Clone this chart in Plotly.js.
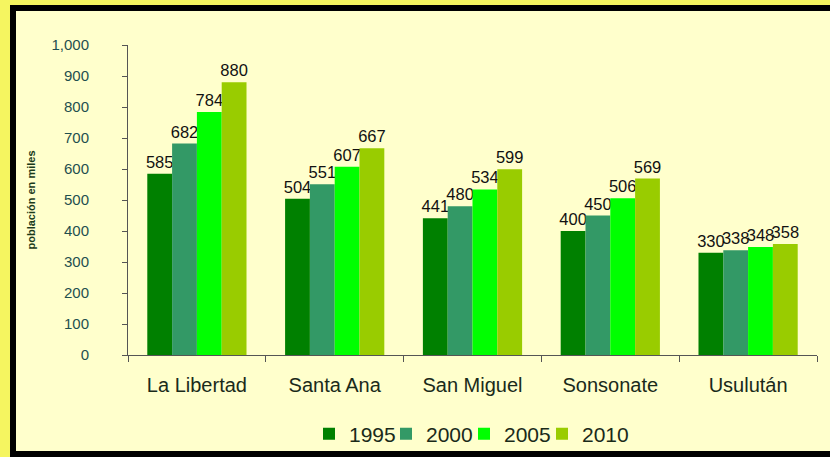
<!DOCTYPE html>
<html><head><meta charset="utf-8">
<script src="https://cdn.plot.ly/plotly-3.0.1.min.js"></script>
<style>
html,body{margin:0;padding:0;width:830px;height:457px;overflow:hidden;background:#F5F560;}
#bg{position:absolute;left:10px;top:5px;width:820px;height:440px;background:#FFFFCC;border-left:6px solid #000;border-top:6px solid #000;border-bottom:6px solid #000;}
#chart{position:absolute;left:0;top:0;width:830px;height:457px;}
</style></head>
<body>
<div id="bg"></div>
<div id="chart"></div>
<script>
const categories = ["La Libertad", "Santa Ana", "San Miguel", "Sonsonate", "Usulután"];
const years = ["1995", "2000", "2005", "2010"];
const v1995 = [585, 504, 441, 400, 330];
const v2000 = [682, 551, 480, 450, 338];
const v2005 = [784, 607, 534, 506, 348];
const v2010 = [880, 667, 599, 569, 358];
const colors = ["#008000", "#339966", "#00FF00", "#99CC00"];
const series = [v1995, v2000, v2005, v2010];
const legendIds = ['legend', 'legend2', 'legend3', 'legend4'];
const legendLeft = [309, 386, 464, 542];

const traces = series.map((vals, i) => ({
  type: 'bar',
  name: years[i],
  legend: legendIds[i],
  x: categories,
  y: vals,
  marker: {color: colors[i]},
  text: vals.map(String),
  textposition: 'outside',
  textangle: 0,
  constraintext: 'none',
  cliponaxis: false,
  textfont: {family: 'Arial, Liberation Sans, sans-serif', size: 16.5, color: '#111'}
}));

const layout = {
  width: 830, height: 457,
  paper_bgcolor: 'rgba(0,0,0,0)',
  plot_bgcolor: 'rgba(0,0,0,0)',
  margin: {l: 128, r: 13, t: 45, b: 102, autoexpand: false},
  barmode: 'group',
  bargap: 0.28,
  bargroupgap: 0,
  font: {family: 'Arial, Liberation Sans, sans-serif', color: '#1F3F3F'},
  xaxis: {
    type: 'category', automargin: false,
    showline: true, linecolor: '#555', linewidth: 1,
    ticks: 'outside', tickson: 'boundaries', ticklen: 6, tickcolor: '#555',
    tickfont: {size: 20, color: '#1a2a1a'},
    ticklabelstandoff: 12,
    showgrid: false, zeroline: false
  },
  yaxis: {
    range: [0, 1000], dtick: 100, tickformat: ',d', automargin: false,
    showline: true, linecolor: '#555', linewidth: 1,
    ticks: 'outside', ticklen: 5, tickcolor: '#555',
    tickfont: {size: 15, color: '#1F4F4F'},
    ticklabelstandoff: 30,
    showgrid: false, zeroline: false,
    title: {text: 'población en miles', font: {size: 11, color: '#1a3a1a', weight: 'bold'}, standoff: 13}
  },
  showlegend: true
};
legendIds.forEach((id, i) => {
  layout[id] = {
    orientation: 'h', xref: 'container', x: legendLeft[i] / 830, xanchor: 'left',
    yref: 'container', y: 0.005, yanchor: 'bottom',
    font: {size: 21, color: '#1a2a1a'},
    bgcolor: 'rgba(0,0,0,0)', itemwidth: 30
  };
});
Plotly.newPlot('chart', traces, layout, {displayModeBar: false, staticPlot: true});
</script>
</body></html>
